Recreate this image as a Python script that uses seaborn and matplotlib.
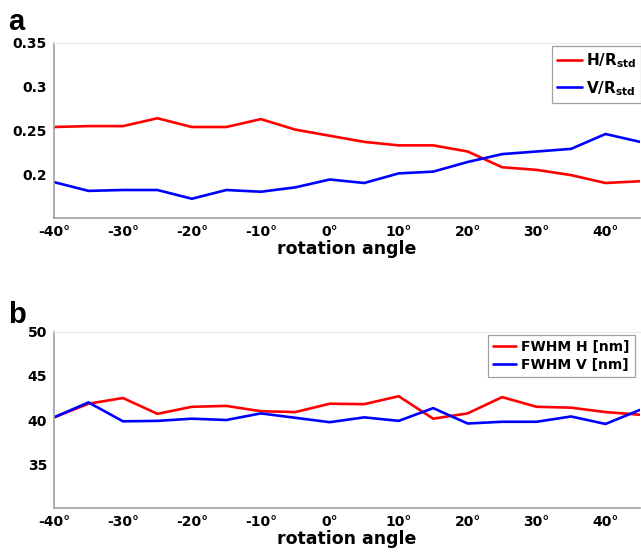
import numpy as np
import pandas as pd
import matplotlib
matplotlib.use("Agg")
import matplotlib.pyplot as plt
import seaborn as sns

angles = [-40, -35, -30, -25, -20, -15, -10, -5, 0, 5, 10, 15, 20, 25, 30, 35, 40, 45]

h_ratio = [0.254, 0.255, 0.255, 0.264, 0.254, 0.254, 0.263, 0.251, 0.244, 0.237,
           0.233, 0.233, 0.226, 0.208, 0.205, 0.199, 0.190, 0.192]
v_ratio = [0.191, 0.181, 0.182, 0.182, 0.172, 0.182, 0.180, 0.185, 0.194, 0.190,
           0.201, 0.203, 0.214, 0.223, 0.226, 0.229, 0.246, 0.237]

fwhm_h = [40.3, 41.85, 42.5, 40.7, 41.5, 41.6, 41.0, 40.9, 41.85, 41.8,
          42.7, 40.15, 40.75, 42.6, 41.5, 41.4, 40.9, 40.6]
fwhm_v = [40.3, 42.0, 39.85, 39.9, 40.15, 40.0, 40.75, 40.25, 39.75, 40.3,
          39.9, 41.35, 39.6, 39.8, 39.8, 40.4, 39.55, 41.15]

xticks = [-40, -30, -20, -10, 0, 10, 20, 30, 40]
xtick_labels = ["-40°", "-30°", "-20°", "-10°", "0°", "10°", "20°", "30°", "40°"]
yticks_a = [0.2, 0.25, 0.3, 0.35]
ytick_labels_a = ["0.2", "0.25", "0.3", "0.35"]
yticks_b = [35, 40, 45, 50]

sns.set_theme(style="white")
plt.rcParams["font.family"] = ["DejaVu Sans"]
plt.rcParams["mathtext.fontset"] = "dejavusans"
plt.rcParams["text.color"] = "black"
plt.rcParams["xtick.color"] = "black"
plt.rcParams["ytick.color"] = "black"
plt.rcParams["axes.labelcolor"] = "black"

df_a = pd.DataFrame({
    "angle": angles * 2,
    "value": h_ratio + v_ratio,
    "series": [r"H/R$_{\mathbf{std}}$"] * len(angles) + [r"V/R$_{\mathbf{std}}$"] * len(angles),
})
df_b = pd.DataFrame({
    "angle": angles * 2,
    "value": fwhm_h + fwhm_v,
    "series": ["FWHM H [nm]"] * len(angles) + ["FWHM V [nm]"] * len(angles),
})

W, H = 641, 556
fig = plt.figure(figsize=(W / 100, H / 100), dpi=100)
ax_a = fig.add_axes([54 / W, 1 - 218 / H, 586 / W, 175 / H])
ax_b = fig.add_axes([54 / W, 1 - 508 / H, 586 / W, 176 / H])

palette = ["#ff0000", "#0000ff"]


def style_axes(ax, ylim, yticks, ylabels):
    ax.set_xlim(-40, 45)
    ax.set_ylim(*ylim)
    ax.set_xticks(xticks)
    ax.set_xticklabels(xtick_labels, fontsize=10, fontweight="bold")
    ax.set_yticks(yticks)
    ax.set_yticklabels(ylabels, fontsize=10, fontweight="bold")
    ax.tick_params(axis="both", length=0, pad=5)
    ax.set_xlabel("rotation angle", fontsize=12.5, fontweight="bold", labelpad=1)
    ax.set_ylabel("")
    for side in ["left", "bottom"]:
        ax.spines[side].set_color("#a0a0a0")
        ax.spines[side].set_linewidth(1.2)
    ax.spines["top"].set_color("#ececec")
    ax.spines["top"].set_linewidth(1.0)
    ax.spines["right"].set_visible(False)


def style_legend(leg):
    leg.get_frame().set_edgecolor("#8a8a8a")
    leg.get_frame().set_linewidth(0.9)
    for t in leg.get_texts():
        t.set_fontweight("bold")


sns.lineplot(data=df_a, x="angle", y="value", hue="series", palette=palette,
             linewidth=1.9, ax=ax_a, legend=True)
style_axes(ax_a, (0.15, 0.35), yticks_a, ytick_labels_a)
leg_a = ax_a.legend(loc="upper left", bbox_to_anchor=(498 / 586, 0.985),
                    frameon=True, fancybox=False, fontsize=11, handlelength=1.6,
                    handletextpad=0.25, borderpad=0.35, labelspacing=0.6,
                    borderaxespad=0)
style_legend(leg_a)

sns.lineplot(data=df_b, x="angle", y="value", hue="series", palette=palette,
             linewidth=1.9, ax=ax_b, legend=True)
style_axes(ax_b, (30, 50), yticks_b, [str(v) for v in yticks_b])
leg_b = ax_b.legend(loc="upper left", bbox_to_anchor=(434 / 586, 0.985),
                    frameon=True, fancybox=False, fontsize=10, handlelength=1.7,
                    handletextpad=0.35, borderpad=0.35, labelspacing=0.3,
                    borderaxespad=0)
style_legend(leg_b)

fig.text(8 / W, 1 - 30 / H, "a", fontsize=21, fontweight="bold",
         family="Liberation Sans", va="baseline")
fig.text(8 / W, 1 - 323 / H, "b", fontsize=21, fontweight="bold",
         family="Liberation Sans", va="baseline")

fig.savefig("out.png", dpi=100)
